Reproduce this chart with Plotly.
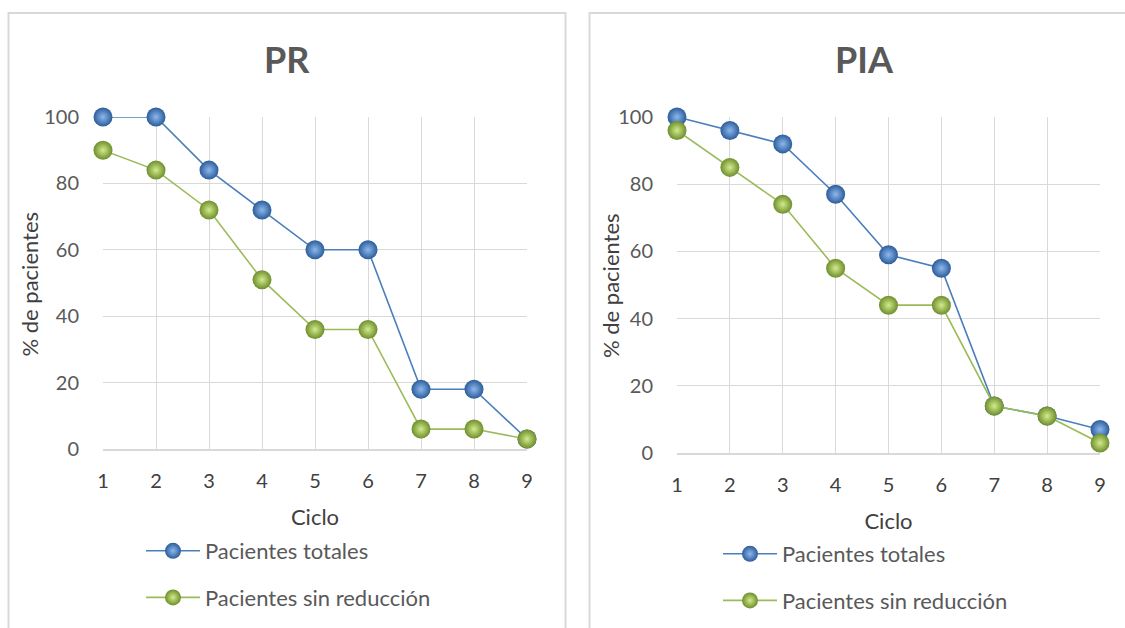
import plotly.graph_objects as go

ciclos = [1, 2, 3, 4, 5, 6, 7, 8, 9]
pr_totales = [100, 100, 84, 72, 60, 60, 18, 18, 3]
pr_sin_reduccion = [90, 84, 72, 51, 36, 36, 6, 6, 3]
pia_totales = [100, 96, 92, 77, 59, 55, 14, 11, 7]
pia_sin_reduccion = [96, 85, 74, 55, 44, 44, 14, 11, 3]

name_tot = "Pacientes totales"
name_sin = "Pacientes sin reducción"
titles = ["PR", "PIA"]
x_title = "Ciclo"
y_title = "% de pacientes"

BLUE = "#4A7EBB"
BLUE_EDGE = "#2C5D9A"
BLUE_HI = "#8DB8EE"
GREEN = "#9BBB59"
GREEN_EDGE = "#6E8E2C"
GREEN_HI = "#D3EB8C"
TXT = "#595959"
GRID = "#D9D9D9"
FONT = "Lato, Open Sans, sans-serif"

fig = go.Figure()

def add(xs, ys, name, line_c, edge_c, hi_c, xa, ya, leg):
    fig.add_trace(go.Scatter(
        x=xs, y=ys, name=name, mode="lines+markers",
        xaxis=xa, yaxis=ya, legend=leg, legendgroup=leg + name,
        line=dict(color=line_c, width=1.6),
        marker=dict(size=19, color=edge_c, line=dict(width=0),
                    gradient=dict(type="radial", color=hi_c)),
        cliponaxis=False,
    ))

add(ciclos, pr_totales, name_tot, BLUE, BLUE_EDGE, BLUE_HI, "x", "y", "legend")
add(ciclos, pr_sin_reduccion, name_sin, GREEN, GREEN_EDGE, GREEN_HI, "x", "y", "legend")
add(ciclos, pia_totales, name_tot, BLUE, BLUE_EDGE, BLUE_HI, "x2", "y2", "legend2")
add(ciclos, pia_sin_reduccion, name_sin, GREEN, GREEN_EDGE, GREEN_HI, "x2", "y2", "legend2")

W, H = 1125, 628

def xax(d0, d1, anchor):
    return dict(domain=[d0 / W, d1 / W], anchor=anchor, range=[1, 9],
                tickmode="array", tickvals=ciclos, ticktext=[str(c) for c in ciclos],
                showgrid=True, gridcolor=GRID, gridwidth=1.3,
                showline=True, linecolor=GRID, linewidth=1.5, zeroline=False,
                ticks="", ticklabelstandoff=13, automargin=False,
                tickfont=dict(family=FONT, size=20, color="#404040"),
                title=dict(text=x_title, font=dict(family=FONT, size=22, color="#404040"), standoff=19),
                fixedrange=True)

def yax(b, t, anchor):
    return dict(domain=[1 - b / H, 1 - t / H], anchor=anchor, range=[0, 100],
                tickvals=[0, 20, 40, 60, 80, 100],
                showgrid=True, gridcolor=GRID, gridwidth=1.3,
                showline=False, zeroline=False, automargin=False,
                ticks="", ticklabelstandoff=23,
                tickfont=dict(family=FONT, size=20, color=TXT),
                fixedrange=True)

legend_common = dict(orientation="v", xanchor="left", yanchor="top",
                     font=dict(family=FONT, size=22, color=TXT),
                     bgcolor="rgba(0,0,0,0)", tracegroupgap=15, itemwidth=54)

def ytitle(x, y):
    return dict(text=y_title, x=x / W, y=1 - y / H, xref="paper", yref="paper",
                textangle=-90, showarrow=False, xanchor="center", yanchor="middle",
                font=dict(family=FONT, size=22, color="#404040"))

def ptitle(text, x):
    return dict(text="<b>" + text + "</b>", x=x / W, y=1 - 59 / H, xref="paper", yref="paper",
                showarrow=False, font=dict(family=FONT, size=36, color=TXT),
                xanchor="center", yanchor="middle")

fig.update_layout(
    width=W, height=H, autosize=False,
    margin=dict(l=0, r=0, t=0, b=0, autoexpand=False),
    paper_bgcolor="white", plot_bgcolor="white",
    xaxis=xax(103, 527, "y"), yaxis=yax(449, 117, "x"),
    xaxis2=xax(677, 1100, "y2"), yaxis2=yax(453, 117, "x2"),
    legend=dict(x=141 / W, y=1 - 530 / H, **legend_common),
    legend2=dict(x=718 / W, y=1 - 533 / H, **legend_common),
    shapes=[
        dict(type="rect", xref="paper", yref="paper", x0=8.5 / W, x1=565.5 / W,
             y0=-0.05, y1=1 - 13 / H, line=dict(color=GRID, width=2), layer="below"),
        dict(type="rect", xref="paper", yref="paper", x0=589.5 / W, x1=1.05,
             y0=-0.05, y1=1 - 13 / H, line=dict(color=GRID, width=2), layer="below"),
    ],
    annotations=[
        ptitle(titles[0], 287), ptitle(titles[1], 864),
        ytitle(28.5, 284), ytitle(610, 286),
    ],
)

fig.write_html("out.html")
